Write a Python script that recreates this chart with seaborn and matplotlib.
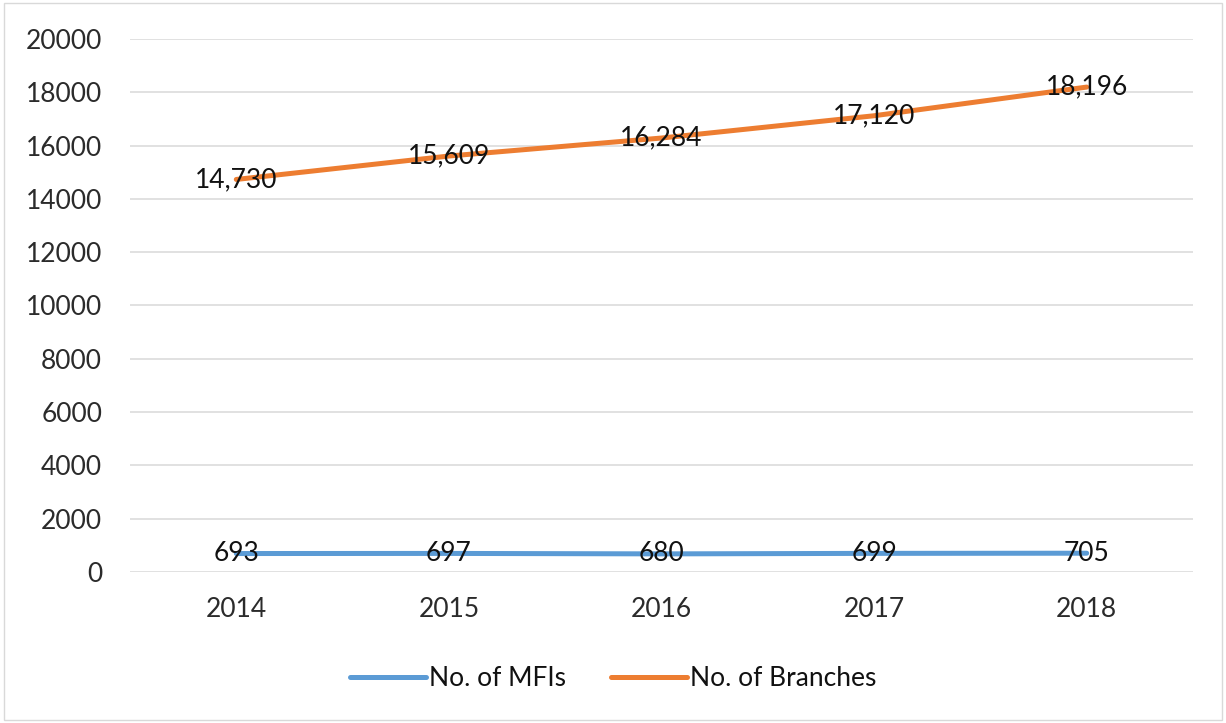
import matplotlib
matplotlib.use("Agg")
import matplotlib.pyplot as plt
import pandas as pd
import seaborn as sns
from matplotlib.patches import Rectangle

# Data
years = ["2014", "2015", "2016", "2017", "2018"]
mfis = [693, 697, 680, 699, 705]
branches = [14730, 15609, 16284, 17120, 18196]
series_names = ["No. of MFIs", "No. of Branches"]
y_ticks = [0, 2000, 4000, 6000, 8000, 10000, 12000, 14000, 16000, 18000, 20000]

df = pd.DataFrame({
    "Year": years * 2,
    "Value": mfis + branches,
    "Series": [series_names[0]] * len(years) + [series_names[1]] * len(years),
})

sns.set_theme(style="white")
plt.rcParams["font.family"] = ["Lato", "DejaVu Sans"]

palette = {series_names[0]: "#5B9BD5", series_names[1]: "#ED7D31"}

fig = plt.figure(figsize=(12.26, 7.23), dpi=100)
ax = fig.add_axes([130 / 1226, 1 - 572 / 723, (1193 - 130) / 1226, (572 - 39) / 723])

sns.lineplot(data=df, x="Year", y="Value", hue="Series", palette=palette,
             linewidth=3.6, ax=ax, legend=True, sort=False)

ax.set_xlim(-0.5, len(years) - 0.5)
ax.set_ylim(0, 20000)
ax.set_yticks(y_ticks)
ax.set_yticklabels([str(t) for t in y_ticks])
ax.grid(axis="y", color="#D9D9D9", linewidth=1.1)
ax.set_axisbelow(True)
for s in ax.spines.values():
    s.set_visible(False)
ax.tick_params(axis="both", length=0, labelsize=19, labelcolor="#2b2b2b")
ax.tick_params(axis="y", pad=20)
ax.tick_params(axis="x", pad=18)
ax.set_xlabel("")
ax.set_ylabel("")

# value labels centred on each point
for vals in (mfis, branches):
    for i, v in enumerate(vals):
        ax.text(i, v, f"{v:,}", ha="center", va="center", fontsize=19,
                color="#111111", zorder=5)

# legend below the plot
handles, labels = ax.get_legend_handles_labels()
ax.get_legend().remove()
fig.legend(handles, labels, loc="center", bbox_to_anchor=(0.5, 1 - 679 / 723),
           ncol=2, frameon=False, fontsize=19, handlelength=2.9,
           handletextpad=0.1, columnspacing=1.7, labelcolor="#111111")

# chart border
fig.patches.append(Rectangle((0.003, 0.004), 0.994, 0.992, transform=fig.transFigure,
                             fill=False, edgecolor="#D9D9D9", linewidth=1.0))

fig.savefig("out.png", dpi=100)
